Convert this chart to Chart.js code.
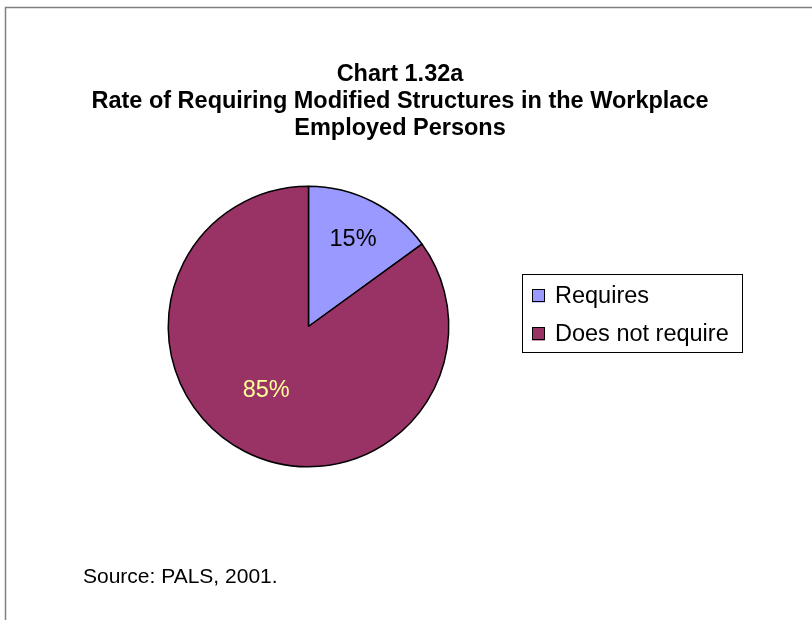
<!DOCTYPE html>
<html>
<head>
<meta charset="utf-8">
<script src="https://cdn.jsdelivr.net/npm/chart.js@4/dist/chart.umd.min.js"></script>
<style>
  html, body { margin: 0; padding: 0; background: #fff; }
  #grafico { display: block; }
</style>
</head>
<body>
<canvas id="grafico" width="812" height="620"></canvas>
<script>
// dados do grafico
const categorias = ['Requires', 'Does not require'];
const valores = [15, 85];
const cores = ['#9999FF', '#993366'];
const coresRotulo = ['#000000', '#FFFF99'];
const titulo = ['Chart 1.32a', 'Rate of Requiring Modified Structures in the Workplace', 'Employed Persons'];
const fonte = 'Source: PALS, 2001.';

const FAMILIA = '"Liberation Sans", Arial, sans-serif';

// desenha moldura, titulo, rotulos, legenda e fonte
const extras = {
  id: 'extras',
  afterDraw(chart) {
    const ctx = chart.ctx;
    ctx.save();

    // moldura (sai da tela pela direita e por baixo)
    ctx.strokeStyle = '#808080';
    ctx.lineWidth = 1.5;
    ctx.beginPath();
    ctx.moveTo(5.5, 640);
    ctx.lineTo(5.5, 7.5);
    ctx.lineTo(830, 7.5);
    ctx.stroke();

    // titulo
    ctx.fillStyle = '#000';
    ctx.font = 'bold 23.5px ' + FAMILIA;
    ctx.textAlign = 'center';
    ctx.textBaseline = 'alphabetic';
    titulo.forEach((linha, i) => ctx.fillText(linha, 400, 81 + i * 27));

    // rotulos de porcentagem
    const meta = chart.getDatasetMeta(0);
    const total = valores.reduce((a, b) => a + b, 0);
    const fator = [0.70, 0.55];
    const ajuste = [0, 0.11];
    ctx.font = '23.5px ' + FAMILIA;
    ctx.textBaseline = 'middle';
    meta.data.forEach((arc, i) => {
      const { x, y, startAngle, endAngle, outerRadius } = arc.getProps(['x', 'y', 'startAngle', 'endAngle', 'outerRadius'], true);
      const meio = (startAngle + endAngle) / 2 + ajuste[i];
      const r = outerRadius * fator[i];
      ctx.fillStyle = coresRotulo[i];
      ctx.fillText(Math.round(valores[i] / total * 100) + '%', x + Math.cos(meio) * r, y + Math.sin(meio) * r);
    });

    // legenda
    ctx.strokeStyle = '#000';
    ctx.lineWidth = 1;
    ctx.strokeRect(522.5, 274.5, 220, 78);
    ctx.textAlign = 'left';
    categorias.forEach((cat, i) => {
      const yc = 296 + i * 38;
      ctx.fillStyle = cores[i];
      ctx.fillRect(532, yc - 6.5, 13, 13);
      ctx.strokeRect(532.5, yc - 6.5, 12, 12);
      ctx.fillStyle = '#000';
      ctx.fillText(cat, 555, yc + 1);
    });

    // fonte dos dados
    ctx.font = '21px ' + FAMILIA;
    ctx.textBaseline = 'alphabetic';
    ctx.fillText(fonte, 83, 583);

    ctx.restore();
  }
};

new Chart(document.getElementById('grafico').getContext('2d'), {
  type: 'pie',
  data: {
    labels: categorias,
    datasets: [{
      data: valores,
      backgroundColor: cores,
      borderColor: '#000',
      borderWidth: 1.5,
      hoverOffset: 0,
      offset: 0
    }]
  },
  options: {
    responsive: false,
    animation: false,
    events: [],
    layout: {
      padding: { left: 167.5, right: 362.5, top: 185.5, bottom: 152.5 }
    },
    plugins: {
      legend: { display: false },
      title: { display: false },
      tooltip: { enabled: false }
    }
  },
  plugins: [extras]
});
</script>
</body>
</html>
